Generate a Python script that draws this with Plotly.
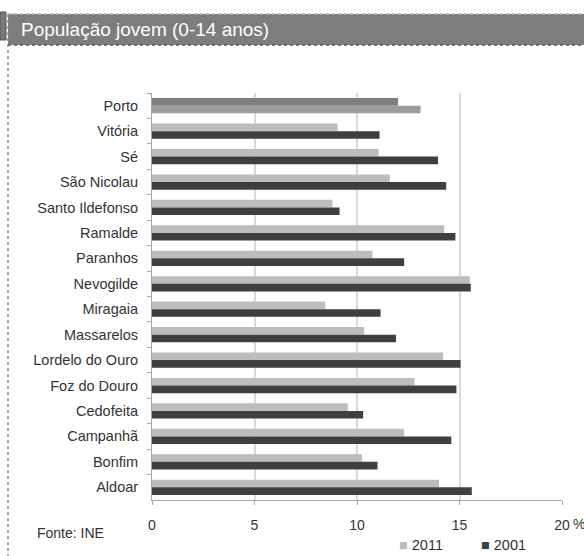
import plotly.graph_objects as go

# Parishes of Porto, listed top to bottom
freguesias = [
    "Porto", "Vitória", "Sé", "São Nicolau", "Santo Ildefonso", "Ramalde",
    "Paranhos", "Nevogilde", "Miragaia", "Massarelos", "Lordelo do Ouro",
    "Foz do Douro", "Cedofeita", "Campanhã", "Bonfim", "Aldoar",
]
# Share of the population aged 0-14 (%)
jovens_2011 = [12.0, 9.05, 11.05, 11.6, 8.8, 14.25, 10.75, 15.5, 8.45, 10.35,
               14.2, 12.8, 9.55, 12.3, 10.25, 14.0]
jovens_2001 = [13.1, 11.1, 13.95, 14.35, 9.15, 14.8, 12.3, 15.55, 11.15, 11.9,
               15.05, 14.85, 10.3, 14.6, 11.0, 15.6]
x_ticks = [0, 5, 10, 15, 20]
x_tick_labels = ["0", "5", "10", "15", "20"]

W, H = 584, 556
L, R, T, B = 152, 22, 93, 56
PW, PH = W - L - R, H - T - B

def px(x):
    return (x - L) / PW

def py(y):
    return (H - B - y) / PH

FONT = "Liberation Sans, Arial, sans-serif"
TXT = "#333333"

# Porto (total) is highlighted with its own shades
c2011 = ["#7f7f7f" if f == "Porto" else "#bdbdbd" for f in freguesias]
c2001 = ["#9c9c9c" if f == "Porto" else "#3f3f3f" for f in freguesias]

fig = go.Figure()
fig.add_trace(go.Bar(y=freguesias, x=jovens_2011, orientation="h", name="2011",
                     marker=dict(color=c2011, line=dict(width=0))))
fig.add_trace(go.Bar(y=freguesias, x=jovens_2001, orientation="h", name="2001",
                     marker=dict(color=c2001, line=dict(width=0))))

shapes = []
# header band
shapes.append(dict(type="rect", xref="paper", yref="paper",
                   x0=px(8), x1=px(W + 2), y0=py(45), y1=py(14),
                   fillcolor="#7d7d7d", line=dict(width=0), layer="below"))
shapes.append(dict(type="line", xref="paper", yref="paper",
                   x0=px(8), x1=px(W + 2), y0=py(14), y1=py(14),
                   line=dict(color="#b5b5b5", width=1.5, dash="dot")))
shapes.append(dict(type="line", xref="paper", yref="paper",
                   x0=px(8), x1=px(W + 2), y0=py(45), y1=py(45),
                   line=dict(color="#555555", width=1.5, dash="dot")))
# small tab at the left of the header
shapes.append(dict(type="rect", xref="paper", yref="paper",
                   x0=px(0), x1=px(6), y0=py(40), y1=py(12),
                   fillcolor="#7a7a7a", line=dict(color="#555555", width=1)))
# dashed frame line down the left side
shapes.append(dict(type="line", xref="paper", yref="paper",
                   x0=px(8), x1=px(8), y0=py(14), y1=py(H + 2),
                   line=dict(color="#8a8a8a", width=1.5, dash="dot")))

annotations = [
    dict(text="População jovem (0-14 anos)", xref="paper", yref="paper",
         x=px(19), y=py(29.5), xanchor="left", yanchor="middle", showarrow=False,
         font=dict(family=FONT, size=19, color="white")),
    dict(text="Fonte: INE", xref="paper", yref="paper",
         x=px(35), y=py(533), xanchor="left", yanchor="middle", showarrow=False,
         font=dict(family=FONT, size=14, color=TXT)),
    dict(text="%", xref="paper", yref="paper",
         x=px(570.5), y=py(524), xanchor="left", yanchor="middle", showarrow=False,
         font=dict(family=FONT, size=14, color=TXT)),
    dict(text='<span style="color:#bdbdbd">■</span> 2011', xref="paper", yref="paper",
         x=px(397), y=py(545), xanchor="left", yanchor="middle", showarrow=False,
         font=dict(family=FONT, size=14.5, color=TXT)),
    dict(text='<span style="color:#3f3f3f">■</span> 2001', xref="paper", yref="paper",
         x=px(479), y=py(545), xanchor="left", yanchor="middle", showarrow=False,
         font=dict(family=FONT, size=14.5, color=TXT)),
]

fig.update_layout(
    width=W, height=H,
    margin=dict(l=L, r=R, t=T, b=B, pad=0),
    paper_bgcolor="white", plot_bgcolor="white",
    barmode="group", bargap=0.4, bargroupgap=0,
    showlegend=False,
    shapes=shapes, annotations=annotations,
    font=dict(family=FONT, size=14, color=TXT),
)
fig.update_xaxes(range=[0, 20], tickvals=x_ticks, ticktext=x_tick_labels,
                 showgrid=True, gridcolor="#d9d9d9", gridwidth=1.5,
                 zeroline=False, showline=True, linecolor="#a6a6a6", linewidth=1,
                 ticks="outside", ticklen=4, tickcolor="#a6a6a6",
                 ticklabelstandoff=8,
                 tickfont=dict(size=14, color=TXT), fixedrange=True)
fig.update_yaxes(autorange="reversed", showgrid=False, zeroline=False,
                 showline=True, linecolor="#a6a6a6", linewidth=1,
                 ticks="outside", ticklen=4, tickcolor="#a6a6a6",
                 tickson="boundaries", ticklabelstandoff=10,
                 tickfont=dict(size=14.5, color=TXT), fixedrange=True)

fig.write_html("out.html")
